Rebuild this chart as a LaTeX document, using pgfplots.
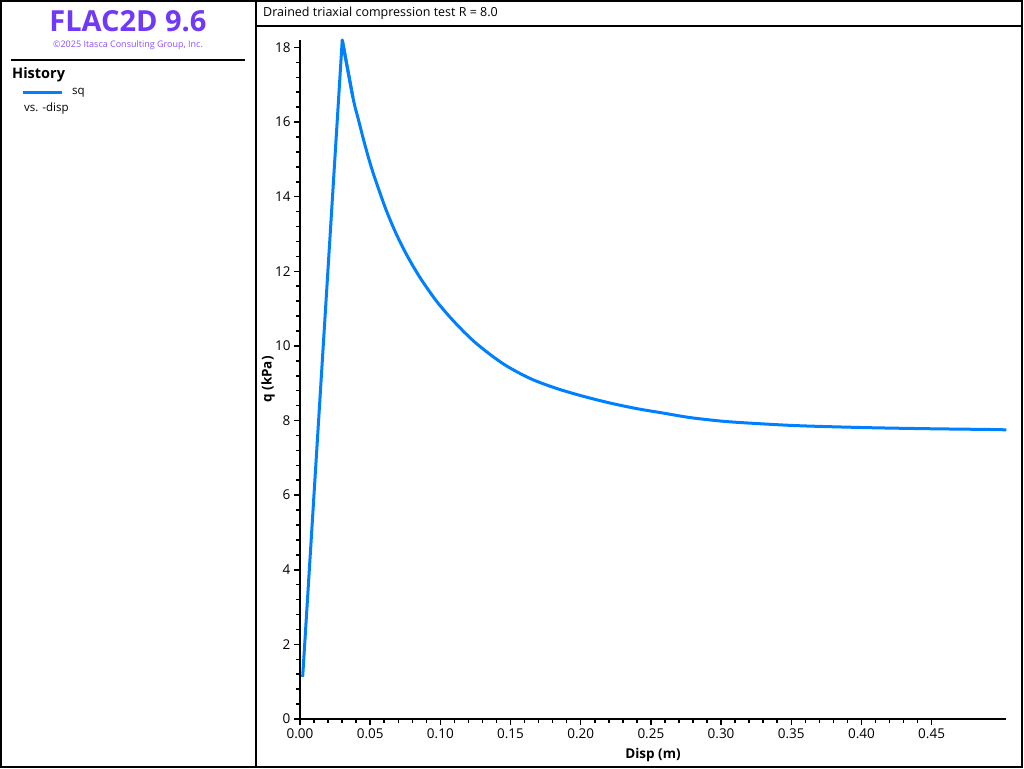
\documentclass[border=0pt]{standalone}
\usepackage{pgfplots}
\pgfplotsset{compat=1.18}
\usepackage{fontspec}
\setmainfont{Open Sans}
\definecolor{flacpurple}{RGB}{112,56,248}
\definecolor{copypurple}{RGB}{140,80,255}
\definecolor{lineblue}{RGB}{0,128,255}
\begin{document}
\begin{tikzpicture}[x=1pt,y=1pt]
\begin{scope}[shift={(-300pt,-49pt)}]
\useasboundingbox (0,0) rectangle (1024,768);
\fill[white] (0,0) rectangle (1024,768);
\draw[line width=2pt] (1,1.5) rectangle (1022,767);
\draw[line width=2pt] (256,1) -- (256,767);
\draw[line width=1.5pt] (256,742) -- (1022,742);
\node[anchor=west, inner sep=0pt, font=\fontsize{12.5}{15}\selectfont] at (263,754.5) {Drained triaxial compression test R = 8.0};
\node[inner sep=0pt, font=\fontsize{29}{34}\selectfont\bfseries, text=flacpurple] at (128,747) {FLAC2D 9.6};
\node[inner sep=0pt, font=\fontsize{9}{11}\selectfont, text=copypurple] at (128,723) {\textcopyright2025 Itasca Consulting Group, Inc.};
\draw[line width=2pt] (11,708) -- (245,708);
\node[anchor=west, inner sep=0pt, font=\fontsize{14.5}{17}\selectfont\bfseries] at (12,693) {History};
\draw[lineblue, line width=3pt] (23,675) -- (62,675);
\node[anchor=west, inner sep=0pt, font=\fontsize{11.5}{14}\selectfont] at (72,675.5) {sq};
\node[anchor=west, inner sep=0pt, font=\fontsize{11.5}{14}\selectfont] at (24,659) {vs. -disp};
\end{scope}
\begin{axis}[
  scale only axis, width=706pt, height=679pt,
  xmin=0, xmax=0.503, ymin=0, ymax=18.2,
  clip=false,
  axis x line*=bottom, axis y line*=left,
  axis line style={line width=2pt, black},
  tick align=outside,
  major tick length=6pt, minor tick length=4pt,
  every tick/.style={black, line width=1.5pt},
  xtick={0,0.05,0.1,0.15,0.2,0.25,0.3,0.35,0.4,0.45},
  ytick={0,2,4,6,8,10,12,14,16,18},
  minor x tick num=4, minor y tick num=4,
  x tick label style={/pgf/number format/.cd, fixed, fixed zerofill, precision=2, assume math mode=true},
  y tick label style={/pgf/number format/assume math mode=true},
  ticklabel style={font=\fontsize{13.5}{16}\selectfont},
  xlabel={\textbf{Disp (m)}}, ylabel={\textbf{q (kPa)}},
  label style={font=\fontsize{13.5}{16}\selectfont},
  xlabel style={at={(axis description cs:0.5,0)}, anchor=center, yshift=-36pt},
  ylabel style={at={(axis description cs:0,0.5)}, anchor=center, yshift=32pt},
]
\addplot[lineblue, line width=3pt, line join=round] coordinates {
(0.0019,1.13)
(0.0301,18.2)
(0.0377,16.66)
};
\addplot[lineblue, line width=3pt, line join=round, smooth, tension=0.5] coordinates {
(0.0301,18.2)
(0.0377,16.66)
(0.0418,16.04)
(0.0461,15.41)
(0.0508,14.79)
(0.0556,14.25)
(0.0615,13.63)
(0.0686,13.00)
(0.0769,12.38)
(0.0864,11.78)
(0.0983,11.15)
(0.1113,10.59)
(0.1258,10.06)
(0.1448,9.52)
(0.1638,9.13)
(0.1828,8.86)
(0.2018,8.65)
(0.2208,8.47)
(0.2398,8.32)
(0.2588,8.20)
(0.2778,8.08)
(0.3015,7.98)
(0.3253,7.92)
(0.3561,7.86)
(0.4036,7.81)
(0.4487,7.78)
(0.4915,7.76)
(0.5033,7.75)
};
\end{axis}
\end{tikzpicture}
\end{document}
